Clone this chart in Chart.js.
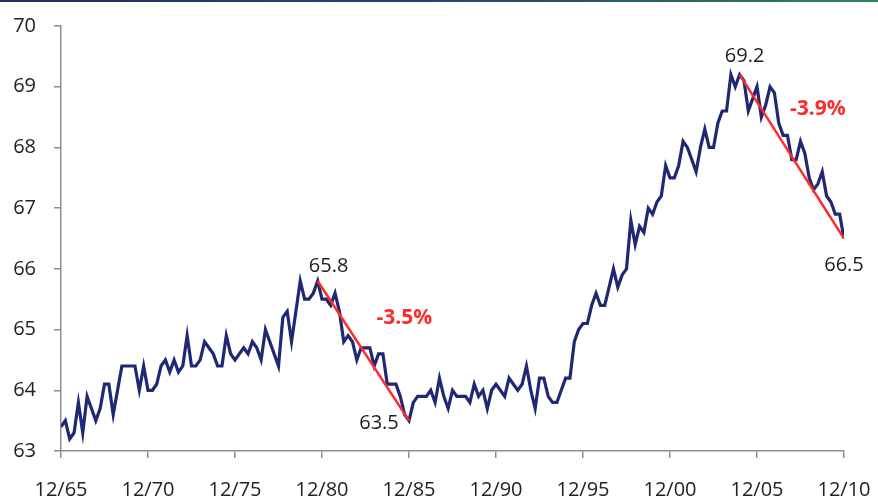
<!DOCTYPE html>
<html>
<head>
<meta charset="utf-8">
<script src="https://cdn.jsdelivr.net/npm/chart.js@4.4.0/dist/chart.umd.min.js"></script>
<style>
  html, body { margin: 0; padding: 0; background: #fff; }
  .wrap { position: relative; width: 878px; height: 502px; }
  .band { position: absolute; left: 0; top: 0; width: 878px; height: 2px;
          background: linear-gradient(to right, #262c66, #2a4a6e 60%, #2f8757); }
</style>
</head>
<body>
<div class="wrap">
  <canvas id="chart" width="878" height="502"></canvas>
  <div class="band"></div>
</div>
<script>
// quarterly, 12/65 .. 12/10
const tickLabels = ['12/65', '12/70', '12/75', '12/80', '12/85', '12/90', '12/95', '12/00', '12/05', '12/10'];

const rate = [
  63.4, 63.5, 63.2, 63.3, 63.8, 63.3, 63.9, 63.7, 63.5, 63.7,
  64.1, 64.1, 63.6, 64.0, 64.4, 64.4, 64.4, 64.4, 64.0, 64.4,
  64.0, 64.0, 64.1, 64.4, 64.5, 64.3, 64.5, 64.3, 64.4, 64.9,
  64.4, 64.4, 64.5, 64.8, 64.7, 64.6, 64.4, 64.4, 64.9, 64.6,
  64.5, 64.6, 64.7, 64.6, 64.8, 64.7, 64.5, 65.0, 64.8, 64.6,
  64.4, 65.2, 65.3, 64.8, 65.3, 65.8, 65.5, 65.5, 65.6, 65.8,
  65.5, 65.5, 65.4, 65.6, 65.3, 64.8, 64.9, 64.8, 64.5, 64.7,
  64.7, 64.7, 64.4, 64.6, 64.6, 64.1, 64.1, 64.1, 63.9, 63.6,
  63.5, 63.8, 63.9, 63.9, 63.9, 64.0, 63.8, 64.2, 63.9, 63.7,
  64.0, 63.9, 63.9, 63.9, 63.8, 64.1, 63.9, 64.0, 63.7, 64.0,
  64.1, 64.0, 63.9, 64.2, 64.1, 64.0, 64.1, 64.4, 64.0, 63.7,
  64.2, 64.2, 63.9, 63.8, 63.8, 64.0, 64.2, 64.2, 64.8, 65.0,
  65.1, 65.1, 65.4, 65.6, 65.4, 65.4, 65.7, 66.0, 65.7, 65.9,
  66.0, 66.8, 66.4, 66.7, 66.6, 67.0, 66.9, 67.1, 67.2, 67.7,
  67.5, 67.5, 67.7, 68.1, 68.0, 67.8, 67.6, 68.0, 68.3, 68.0,
  68.0, 68.4, 68.6, 68.6, 69.2, 69.0, 69.2, 69.1, 68.6, 68.8,
  69.0, 68.5, 68.7, 69.0, 68.9, 68.4, 68.2, 68.2, 67.8, 67.8,
  68.1, 67.9, 67.5, 67.3, 67.4, 67.6, 67.2, 67.1, 66.9, 66.9,
  66.5
];

// peak -> trough of the two declines (indexes into rate)
const dropStart = [59, 156];
const dropEnd = [80, 180];

const NAVY = '#1f2873';
const RED = '#ff2b2b';
const AXIS = '#958b8b';

Chart.defaults.font.family = "'Open Sans', sans-serif";
Chart.defaults.font.size = 20;
Chart.defaults.color = '#222';

const dropSets = dropStart.map((s, k) => ({
  data: [{ x: s, y: rate[s] }, { x: dropEnd[k], y: rate[dropEnd[k]] }],
  borderColor: RED,
  borderWidth: 2.5,
  pointRadius: 0
}));

// label offsets in px
const startOff = [[11, -15], [5, -18]];
const endOff = [[-30, 3], [0, 27]];
const pctOff = [[41, -33], [26, -48]];

const dropLabels = {
  id: 'dropLabels',
  afterDatasetsDraw(chart) {
    const { ctx, scales: { x, y } } = chart;
    ctx.save();
    ctx.textAlign = 'center';
    ctx.textBaseline = 'middle';
    dropStart.forEach((s, k) => {
      const e = dropEnd[k];
      const x0 = x.getPixelForValue(s), y0 = y.getPixelForValue(rate[s]);
      const x1 = x.getPixelForValue(e), y1 = y.getPixelForValue(rate[e]);
      ctx.font = "20px 'Open Sans'";
      ctx.fillStyle = '#1e1e1e';
      ctx.fillText(rate[s].toFixed(1), x0 + startOff[k][0], y0 + startOff[k][1]);
      ctx.fillText(rate[e].toFixed(1), x1 + endOff[k][0], y1 + endOff[k][1]);
      const pct = ((rate[e] / rate[s] - 1) * 100).toFixed(1) + '%';
      ctx.font = "bold 21px 'Open Sans'";
      ctx.fillStyle = RED;
      ctx.fillText(pct, (x0 + x1) / 2 + pctOff[k][0], (y0 + y1) / 2 + pctOff[k][1]);
    });
    ctx.restore();
  }
};

new Chart(document.getElementById('chart'), {
  type: 'line',
  data: {
    datasets: [
      ...dropSets,
      {
        data: rate.map((v, i) => ({ x: i, y: v })),
        borderColor: NAVY,
        borderWidth: 3.2,
        pointRadius: 0,
        tension: 0
      }
    ]
  },
  options: {
    responsive: false,
    animation: false,
    devicePixelRatio: 1,
    layout: { padding: { left: 13, top: 26, right: 34, bottom: 0 } },
    plugins: { legend: { display: false }, tooltip: { enabled: false } },
    scales: {
      x: {
        type: 'linear',
        min: 0,
        max: 180,
        afterFit: s => { s.height = 51; s.paddingLeft = 0; s.paddingRight = 0; },
        border: { color: AXIS, width: 1.5 },
        grid: { drawOnChartArea: false, color: AXIS, lineWidth: 1.5, tickLength: 7 },
        ticks: {
          stepSize: 20,
          autoSkip: false,
          maxRotation: 0,
          padding: 20,
          callback: v => tickLabels[v / 20]
        }
      },
      y: {
        min: 63,
        max: 70,
        afterFit: s => { s.width = 48; s.paddingTop = 0; s.paddingBottom = 0; },
        border: { color: AXIS, width: 1.5 },
        grid: { drawOnChartArea: false, color: AXIS, lineWidth: 1.5, tickLength: 7 },
        ticks: { stepSize: 1, padding: 18 }
      }
    }
  },
  plugins: [dropLabels]
});
</script>
</body>
</html>
